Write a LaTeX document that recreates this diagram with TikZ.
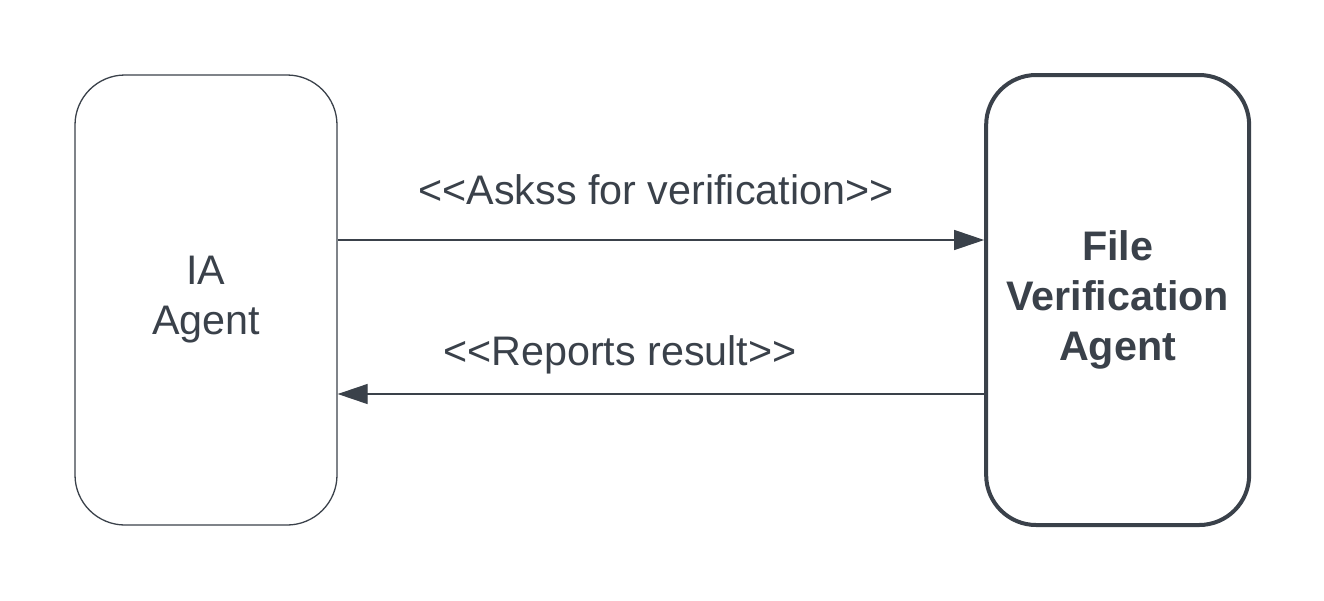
\documentclass[tikz,border=0pt]{standalone}
\usepackage{fontspec}
\setmainfont{Liberation Sans}
\usetikzlibrary{arrows.meta,positioning}
\usepackage{xcolor}
\definecolor{slate}{RGB}{58,65,74}
\newcommand{\openq}{<\kern0pt<}
\newcommand{\closeq}{>\kern0pt>}

\begin{document}
\begin{tikzpicture}[>={Triangle[length=0.6cm, width=0.4cm]}, font=\fontsize{23.5}{28.5}\selectfont, color=slate, line width=0.74pt]
    \useasboundingbox (0,0) rectangle (26.48,-12);
    % Nodes
    \node[draw, rounded corners=1cm, minimum width=5.24cm, minimum height=9cm, align=center] (ia) at (4.12,-6) {IA\\Agent};
    \node[draw, rounded corners=1cm, line width=2.28pt, minimum width=5.26cm, minimum height=9cm, align=center, font=\fontsize{23.5}{28.5}\selectfont\bfseries, right=12.93cm of ia] (fva) {File\\Verification\\Agent};

    % Arrows
    \draw[->] ([yshift=1.2cm]ia.east) -- node[anchor=base, yshift=0.71cm, xshift=-0.1cm]{\openq Askss for verification\closeq} ([yshift=1.2cm]ia.east -| fva.west);
    \draw[->] ([yshift=-1.88cm]fva.west) -- node[anchor=base, yshift=0.58cm, xshift=-0.82cm]{\openq Reports result\closeq} ([yshift=-1.88cm]fva.west -| ia.east);
\end{tikzpicture}
\end{document}
